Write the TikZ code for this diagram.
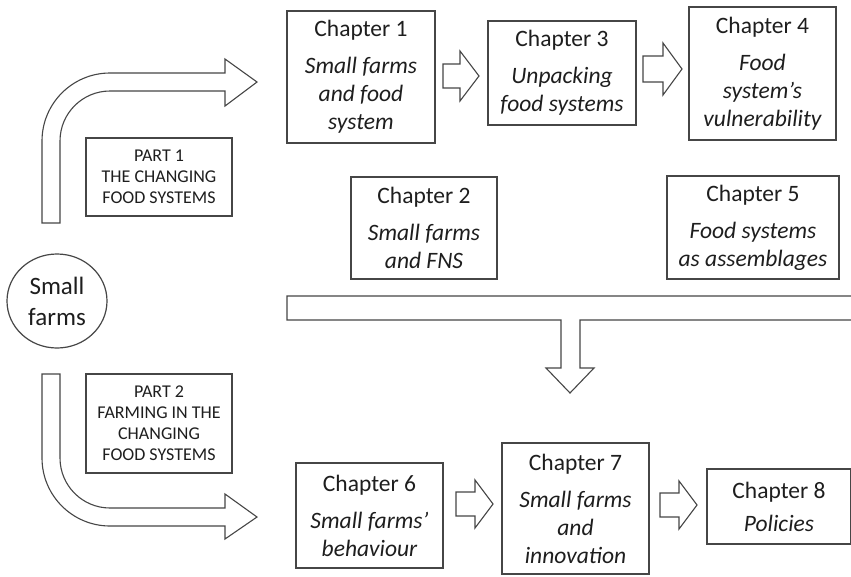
\documentclass[tikz,border=0pt]{standalone}
\usepackage{fontspec}
\setmainfont{Carlito}
\usetikzlibrary{shapes.geometric}
\definecolor{ln}{RGB}{70,70,70}
\definecolor{tx}{RGB}{30,30,30}
\tikzset{
  chap/.style={draw=ln, line width=1.3pt, align=center, inner sep=0pt, text=tx,
    font=\fontsize{23.5}{28}\selectfont},
  partbox/.style={draw=ln, line width=1.2pt, align=center, inner sep=0pt, text=tx,
    font=\fontsize{18}{21}\selectfont},
  blk/.style={draw=ln, line width=1.1pt, line join=miter, fill=white}
}
\begin{document}
\begin{tikzpicture}[x=1pt,y=-1pt]
\useasboundingbox (0,0) rectangle (851,576);
\clip (0,0) rectangle (851,576);
\fill[white] (0,0) rectangle (851,576);

% curved arrow part 1
\draw[blk] (42,223) -- (42,141) arc[start angle=180,end angle=270,radius=68]
  -- (225,73) -- (225,59) -- (257,82) -- (225,106) -- (225,91) -- (110,91)
  arc[start angle=270,end angle=180,radius=50] -- (60,223) -- cycle;
% curved arrow part 2
\draw[blk] (42,374) -- (42,458) arc[start angle=180,end angle=90,radius=68]
  -- (225,526) -- (225,539) -- (257,517) -- (225,494) -- (225,508) -- (110,508)
  arc[start angle=90,end angle=180,radius=50] -- (60,374) -- cycle;

% T-shaped bar with down arrow
\draw[blk] (287,296) -- (870,296) -- (870,320) -- (580,320) -- (580,368) -- (594,368)
  -- (570,393) -- (546,368) -- (561,368) -- (561,320) -- (287,320) -- cycle;

% small block arrows
\draw[blk] (443,64) -- (460,64) -- (460,51) -- (479,76) -- (460,101) -- (460,88) -- (443,88) -- cycle;
\draw[blk] (643,56) -- (663,56) -- (663,43) -- (682,69) -- (663,95) -- (663,82) -- (643,82) -- cycle;
\draw[blk] (456,492) -- (475,492) -- (475,480) -- (493,504) -- (475,528) -- (475,516) -- (456,516) -- cycle;
\draw[blk] (660,493) -- (679,493) -- (679,481) -- (697,505) -- (679,529) -- (679,517) -- (660,517) -- cycle;

% circle
\node[draw=ln, line width=1.2pt, ellipse, minimum width=100, minimum height=94, inner sep=0pt,
  align=center, text=tx, font=\fontsize{25}{31}\selectfont] (sf) at (57,301) {Small\\farms};

% part boxes
\node[partbox, minimum width=146, minimum height=78] (p1) at (159,177)
  {PART 1\\THE CHANGING\\FOOD SYSTEMS};
\node[partbox, minimum width=146, minimum height=99] (p2) at (159,423.5)
  {PART 2\\FARMING IN THE\\CHANGING\\FOOD SYSTEMS};

% chapter boxes
\node[chap, minimum width=148, minimum height=132] (c1) at (361,77)
  {Chapter 1\\[9pt]\itshape Small farms\\\itshape and food\\\itshape system};
\node[chap, minimum width=148, minimum height=104] (c3) at (562,73)
  {Chapter 3\\[9pt]\itshape Unpacking\\\itshape food systems};
\node[chap, minimum width=147, minimum height=133] (c4) at (762.5,73.5)
  {Chapter 4\\[9pt]\itshape Food\\\itshape system’s\\\itshape vulnerability};
\node[chap, minimum width=146, minimum height=102] (c2) at (424,228)
  {Chapter 2\\[9pt]\itshape Small farms\\\itshape and FNS};
\node[chap, minimum width=172, minimum height=103] (c5) at (753,227.5)
  {Chapter 5\\[9pt]\itshape Food systems\\\itshape as assemblages};
\node[chap, minimum width=147, minimum height=105] (c6) at (369.5,515.5)
  {Chapter 6\\[9pt]\itshape Small farms’\\\itshape behaviour};
\node[chap, minimum width=147, minimum height=131] (c7) at (575.5,508.5)
  {Chapter 7\\[9pt]\itshape Small farms\\\itshape and\\\itshape innovation};
\node[chap, minimum width=144, minimum height=75] (c8) at (779,506.5)
  {Chapter 8\\[5pt]\itshape Policies};
\end{tikzpicture}
\end{document}
